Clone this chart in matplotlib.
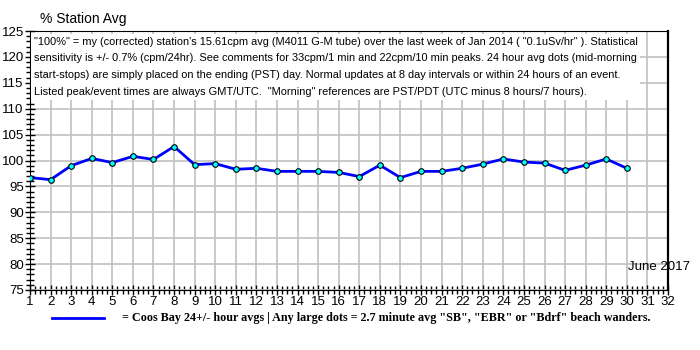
import matplotlib.pyplot as plt
from matplotlib.ticker import MultipleLocator

days = list(range(1, 31))
pct_avg = [96.7, 96.3, 99.0, 100.4, 99.6, 100.8, 100.2, 102.7, 99.2, 99.4,
           98.3, 98.5, 97.9, 97.9, 97.9, 97.7, 96.9, 99.1, 96.7, 97.9,
           97.9, 98.5, 99.3, 100.3, 99.7, 99.5, 98.1, 99.1, 100.3, 98.5]

note = ('"100%" = my (corrected) station\'s 15.61cpm avg (M4011 G-M tube) over the last week of Jan 2014 ( "0.1uSv/hr" ). Statistical\n'
        'sensitivity is +/- 0.7% (cpm/24hr). See comments for 33cpm/1 min and 22cpm/10 min peaks. 24 hour avg dots (mid-morning\n'
        'start-stops) are simply placed on the ending (PST) day. Normal updates at 8 day intervals or within 24 hours of an event.\n'
        'Listed peak/event times are always GMT/UTC.  "Morning" references are PST/PDT (UTC minus 8 hours/7 hours).')

plt.rcParams['font.family'] = ['Liberation Sans', 'DejaVu Sans']

fig = plt.figure(figsize=(7, 3.5), dpi=100)
ax = fig.add_axes([30 / 700, 1 - 290 / 350, 638 / 700, 259 / 350])

ax.plot(days, pct_avg, '-', color='#0000ff', lw=2, zorder=3)
ax.plot(days, pct_avg, 'o', ms=4, mfc='#00ffff', mec='#000000', mew=0.8, zorder=4)

ax.set_xlim(1, 32)
ax.set_ylim(75, 125)
ax.xaxis.set_major_locator(MultipleLocator(1))
ax.xaxis.set_minor_locator(MultipleLocator(0.25))
ax.yaxis.set_major_locator(MultipleLocator(5))
ax.yaxis.set_minor_locator(MultipleLocator(1))
ax.tick_params(which='both', direction='inout', length=7, width=1, labelsize=9.5, pad=1)
ax.tick_params(which='minor', length=6)
ax.tick_params(top=False, right=False)
ax.grid(True, which='major', color='#c0c0c0', lw=1.2, zorder=0)
for s in ax.spines.values():
    s.set_color('black')
ax.spines['right'].set_linewidth(1.6)

ax.text(0.006, 0.978, note, transform=ax.transAxes, va='top', ha='left', fontsize=7.9,
        linespacing=1.85, bbox=dict(fc='white', ec='none', pad=2), zorder=5)
ax.text(0.938, 0.065, 'June 2017', transform=ax.transAxes, ha='left', va='bottom',
        fontsize=9.5, zorder=5, clip_on=False)

fig.text(40 / 700, 1 - 19 / 350, '% Station Avg', fontsize=10, va='center', ha='left')

fig.lines.append(plt.Line2D([52 / 700, 104 / 700], [1 - 318 / 350] * 2, color='#0000ff', lw=2,
                            transform=fig.transFigure))
fig.text(122 / 700, 1 - 318 / 350,
         '= Coos Bay 24+/- hour avgs | Any large dots = 2.7 minute avg "SB", "EBR" or "Bdrf" beach wanders.',
         fontsize=8.7, fontweight='bold', family=['Liberation Serif', 'DejaVu Serif'],
         va='center', ha='left')

fig.savefig('out.png', dpi=100)
